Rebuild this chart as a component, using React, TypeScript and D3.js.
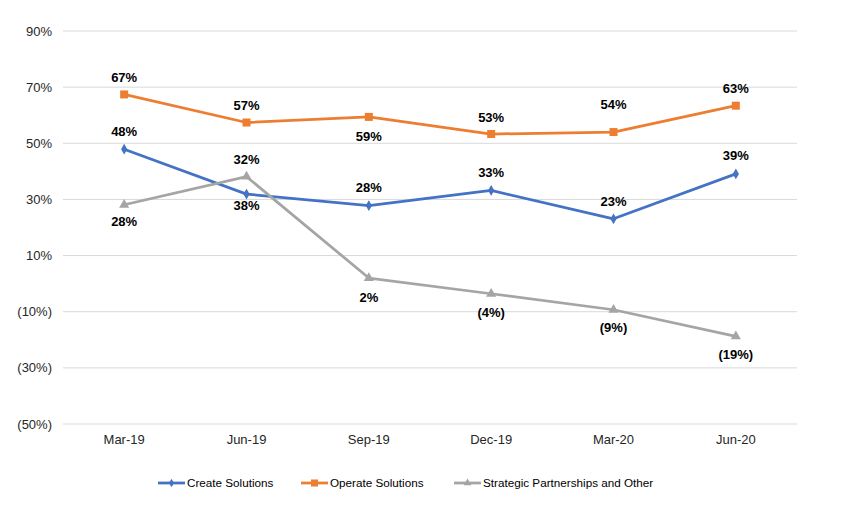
import React from 'react';
import * as d3 from 'd3';

const categories = ['Mar-19', 'Jun-19', 'Sep-19', 'Dec-19', 'Mar-20', 'Jun-20'];
const createSolutions = [47.9, 31.9, 27.8, 33.2, 23.1, 39.1];
const operateSolutions = [67.4, 57.4, 59.4, 53.3, 54.0, 63.4];
const strategicPartnerships = [28.1, 38.1, 2.0, -3.6, -9.3, -18.8];
const yTicks = [90, 70, 50, 30, 10, -10, -30, -50];

// label nudges (px) to match where the labels sit in the original
const createLabelDy = [-18, -35, -18, -18, -17, -18];
const operateLabelDy = [-17, -17, 20, -17, -28, -17];
const strategicLabelDy = [17, 29, 19, 19, 18, 18];

const W = 842, H = 508;
const margin = {top: 31, right: 45, bottom: 84, left: 63};
const font = 'Liberation Sans, Arial, sans-serif';

const series = [
  {name: 'Create Solutions', values: createSolutions, dy: createLabelDy, color: '#4472C4', marker: 'diamond', legendX: 158},
  {name: 'Operate Solutions', values: operateSolutions, dy: operateLabelDy, color: '#ED7D31', marker: 'square', legendX: 301},
  {name: 'Strategic Partnerships and Other', values: strategicPartnerships, dy: strategicLabelDy, color: '#A5A5A5', marker: 'triangle', legendX: 454},
];

const fmt = (v: number) => {
  const r = Math.round(Math.abs(v));
  return v < 0 ? `(${r}%)` : `${r}%`;
};

function Marker({type, x, y, color, size}: {type: string, x: number, y: number, color: string, size: number}) {
  if (type === 'square') {
    return <rect x={x - size / 2} y={y - size / 2} width={size} height={size} fill={color}/>;
  }
  const sym = type === 'diamond' ? d3.symbolDiamond : d3.symbolTriangle;
  const area = type === 'diamond' ? size * size * 0.6 : size * size * 0.55;
  return <path transform={`translate(${x},${y})`} d={d3.symbol(sym, area)() || ''} fill={color}/>;
}

export default function App() {
  const x = d3.scaleBand().domain(categories).range([margin.left, W - margin.right]);
  const y = d3.scaleLinear().domain([-50, 90]).range([H - margin.bottom, margin.top]);
  const cx = (c: string) => (x(c) || 0) + x.bandwidth() / 2;

  const line = d3.line<number>()
    .x((_, i) => cx(categories[i]))
    .y((d) => y(d));

  return (
    <div style={{position: 'fixed', left: 0, top: 0}}>
      <svg width={W} height={H} style={{display: 'block', background: '#fff'}}>
        <g>
          {yTicks.map((t) => (
            <g key={t}>
              <line x1={margin.left} x2={W - margin.right} y1={y(t)} y2={y(t)} stroke="#d9d9d9" strokeWidth={1}/>
              <text x={52} y={y(t)} dy="0.35em" textAnchor="end" fontFamily={font} fontSize={13} fill="#262626">{fmt(t)}</text>
            </g>
          ))}
          {categories.map((c) => (
            <text key={c} x={cx(c)} y={439} dy="0.35em" textAnchor="middle" fontFamily={font} fontSize={13} fill="#262626">{c}</text>
          ))}
        </g>

        {series.map((s) => (
          <g key={s.name}>
            <path d={line(s.values) || ''} fill="none" stroke={s.color} strokeWidth={2.75} strokeLinejoin="round"/>
            {s.values.map((v, i) => (
              <Marker key={i} type={s.marker} x={cx(categories[i])} y={y(v)} color={s.color} size={s.marker === 'square' ? 8 : s.marker === 'diamond' ? 7.5 : 9}/>
            ))}
          </g>
        ))}

        {series.map((s) => (
          <g key={s.name + '-labels'}>
            {s.values.map((v, i) => (
              <text key={i} x={cx(categories[i])} y={y(v) + s.dy[i]} dy="0.35em" textAnchor="middle"
                    fontFamily={font} fontSize={13} fontWeight="bold" fill="#000">{fmt(v)}</text>
            ))}
          </g>
        ))}

        <g>
          {series.map((s) => (
            <g key={s.name + '-legend'}>
              <line x1={s.legendX} x2={s.legendX + 27} y1={483} y2={483} stroke={s.color} strokeWidth={2.75}/>
              <Marker type={s.marker} x={s.legendX + 13.5} y={483} color={s.color} size={s.marker === 'diamond' ? 6 : 7}/>
              <text x={s.legendX + 29} y={483} dy="0.35em" fontFamily={font} fontSize={11.7} fill="#000">{s.name}</text>
            </g>
          ))}
        </g>
      </svg>
    </div>
  );
}
